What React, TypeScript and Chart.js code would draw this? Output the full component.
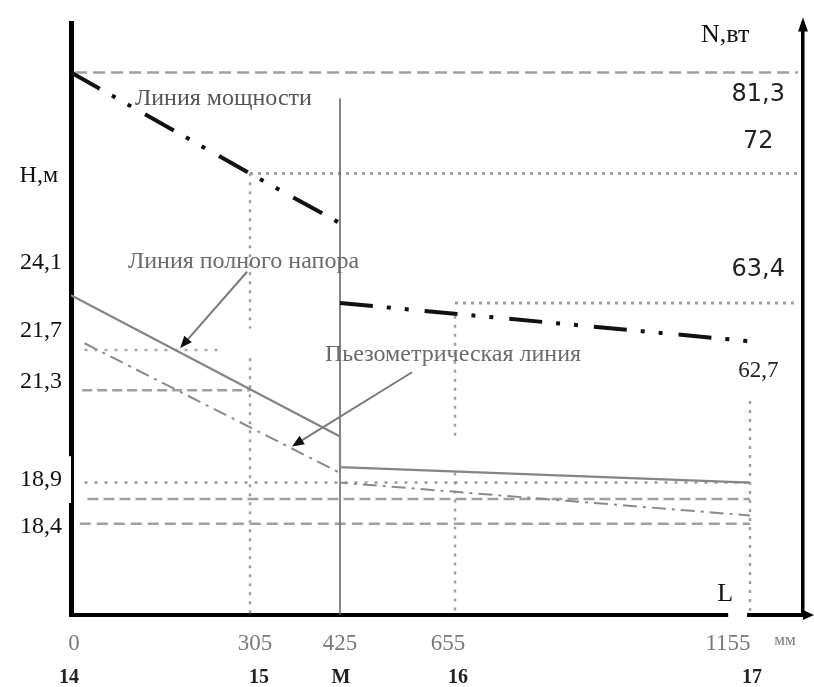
import React, { useEffect, useRef } from 'react';
import { Chart, LinearScale, registerables } from 'chart.js';

// ---------------- data ----------------
const sectionX = [0, 305, 425, 655, 1155]; // mm
const sectionNames = ['14', '15', 'М', '16', '17'];
const unitTick = 1230; // where the unit "мм" sits on the length axis
const headTicks = [18.4, 18.9, 21.3, 21.7, 24.1]; // H, m
const powerTicks = [62.7, 63.4, 72, 81.3]; // N, W

// power line N(L)
const powerX = [0, 305, 425, 425, 425, 1155];
const powerN = [81.3, 72, 68.7, null, 63.4, 62.7];
// full head line H(L)
const headX = [0, 425, 425, 1155];
const fullHead = [24.1, 20.1, 19.3, 18.9];
// piezometric line
const piezoX = [23, 425, 425, 1155];
const piezoHead = [22.0, 19.15, 18.9, 18.5];

// horizontal guide lines on the H scale
const hGuideLevel = [21.7, 21.3, 18.9, 18.7, 18.4];
const hGuideFrom = [23, 19, 23, 28, 15];
const hGuideTo = [259, 305, 1155, 1155, 1155];
// horizontal guide lines on the N scale
const nGuideLevel = [81.3, 72, 63.4];
const nGuideFrom = [7, 305, 655];
const nGuideTo = [1250, 1250, 1250];
// vertical dotted guides (H values, null = gap)
const vGuideX = [305, 655, 1155];
const vGuideH = [
  [25.4, 22.64, null, 21.62, 17.5],
  [23.2, 20.1, null, 19.16, 17.5],
  [21.02, 17.5],
];
// section M wall
const mLineX = 425;
const mLineH = [26.2, 17.5];

// text notes and pointers (data coordinates)
const notes = [
  { text: 'Линия мощности', x: 109, y: 78.9, axis: 'yN' },
  { text: 'Линия полного напора', x: 97, y: 24.46, axis: 'yH' },
  { text: 'Пьезометрическая линия', x: 405, y: 21.65, axis: 'yH' },
];
const pointerFrom = [[300, 24.35], [569, 21.48]];
const pointerTo = [[186, 21.79], [361, 19.84]];
const axisNames = [
  { text: 'Н,м', x: -22, y: 25.37, axis: 'yH', align: 'right' },
  { text: 'N,вт', x: 1113, y: 84.87, axis: 'yN', align: 'center' },
  { text: 'L', x: 1113, y: 17.71, axis: 'yH', align: 'center' },
];
const lGap = [1118, 1150];

// ---------------- non-uniform (schematic) scales ----------------
// The drawing is not to scale; each axis maps values through knots
// given as positions inside the plot frame.
const FRAME = { left: 71, right: 803, top: 12, bottom: 615 };
const KNOTS_PX: Record<string, number[][]> = {
  x: [[0, 71], [305, 250], [425, 340], [655, 455], [1155, 750], [1260, 803]],
  xNum: [[0, 74], [305, 255], [425, 340], [655, 448], [1155, 728], [1230, 785], [1260, 803]],
  xName: [[0, 69], [305, 259], [425, 341], [655, 458], [1155, 752], [1260, 803]],
  yH: [[17.5, 615], [18.4, 522], [18.9, 480], [21.3, 386], [21.7, 345], [24.1, 289], [27, 12]],
  yN: [[55, 615], [62.7, 336], [63.4, 297], [72, 165], [81.3, 62], [86, 12]],
  yHlab: [[17.5, 615], [18.4, 525], [18.9, 477], [21.3, 377], [21.7, 325], [24.1, 256], [27, 12]],
  yNlab: [[55, 615], [62.7, 366], [63.4, 263], [72, 133], [81.3, 85], [86, 12]],
};
const KNOTS: Record<string, number[][]> = {};
Object.keys(KNOTS_PX).forEach((id) => {
  const horiz = id[0] === 'x';
  KNOTS[id] = KNOTS_PX[id].map(([v, p]) => [
    v,
    horiz ? (p - FRAME.left) / (FRAME.right - FRAME.left) : (FRAME.bottom - p) / (FRAME.bottom - FRAME.top),
  ]);
});

class PiecewiseScale extends LinearScale {
  static id = 'piecewise';
  static defaults = {};
  getPixelForValue(value: any) {
    if (value === null || value === undefined || Number.isNaN(value)) return NaN;
    const k = KNOTS[(this as any).id];
    let i = 0;
    while (i < k.length - 2 && value > k[i + 1][0]) i++;
    const [v0, d0] = k[i];
    const [v1, d1] = k[i + 1];
    return this.getPixelForDecimal(d0 + ((value - v0) * (d1 - d0)) / (v1 - v0));
  }
  getValueForPixel(pixel: number) {
    const d = this.getDecimalForPixel(pixel);
    const k = KNOTS[(this as any).id];
    let i = 0;
    while (i < k.length - 2 && d > k[i + 1][1]) i++;
    const [v0, d0] = k[i];
    const [v1, d1] = k[i + 1];
    return v0 + ((d - d0) * (v1 - v0)) / (d1 - d0);
  }
}

Chart.register(...registerables, PiecewiseScale);

const fmt = (v: number) => String(v).replace('.', ',');
const pts = (xs: number[], ys: (number | null)[]) => xs.map((x, i) => ({ x, y: ys[i] }));

const base = { pointRadius: 0, fill: false, tension: 0, spanGaps: false, xAxisID: 'x', borderCapStyle: 'butt' };

const hGuideStyle = [
  { dash: [3, 7], color: '#a6a6a6', width: 2.5 },
  { dash: [10, 5], color: '#a0a0a0', width: 2.5 },
  { dash: [3, 7], color: '#9a9a9a', width: 2.5 },
  { dash: [11, 5], color: '#a0a0a0', width: 2.5 },
  { dash: [11, 6], color: '#a0a0a0', width: 2.5 },
];
const nGuideStyle = [
  { dash: [12, 6], color: '#a0a0a0', width: 2.5 },
  { dash: [3, 5], color: '#a0a0a0', width: 3 },
  { dash: [3, 5], color: '#a0a0a0', width: 3 },
];

function buildDatasets() {
  const ds: any[] = [
    {
      ...base, label: 'Линия мощности', data: pts(powerX, powerN), yAxisID: 'yN',
      borderColor: '#111', borderWidth: 4, borderDash: [33, 14, 4, 14, 4, 16],
    },
    {
      ...base, label: 'Линия полного напора', data: pts(headX, fullHead), yAxisID: 'yH',
      borderColor: '#858585', borderWidth: 2.2,
    },
    {
      ...base, label: 'Пьезометрическая линия', data: pts(piezoX, piezoHead), yAxisID: 'yH',
      borderColor: '#8a8a8a', borderWidth: 2, borderDash: [14, 6, 3, 6],
    },
    {
      ...base, label: 'M', data: pts([mLineX, mLineX], mLineH), yAxisID: 'yH',
      borderColor: '#666', borderWidth: 1.6,
    },
  ];
  hGuideLevel.forEach((lv, i) => {
    ds.push({
      ...base, label: 'H ' + lv, data: pts([hGuideFrom[i], hGuideTo[i]], [lv, lv]), yAxisID: 'yH',
      borderColor: hGuideStyle[i].color, borderWidth: hGuideStyle[i].width, borderDash: hGuideStyle[i].dash,
    });
  });
  nGuideLevel.forEach((lv, i) => {
    ds.push({
      ...base, label: 'N ' + lv, data: pts([nGuideFrom[i], nGuideTo[i]], [lv, lv]), yAxisID: 'yN',
      borderColor: nGuideStyle[i].color, borderWidth: nGuideStyle[i].width, borderDash: nGuideStyle[i].dash,
    });
  });
  vGuideX.forEach((xv, i) => {
    ds.push({
      ...base, label: 'v ' + xv, data: pts(vGuideH[i].map(() => xv), vGuideH[i]), yAxisID: 'yH',
      borderColor: '#a0a0a0', borderWidth: 2.5, borderDash: [3, 6],
    });
  });
  return ds;
}

const notesPlugin = {
  id: 'schemeNotes',
  afterDraw(chart: any) {
    const { ctx, chartArea: a, scales } = chart;
    const X = (v: number) => scales.x.getPixelForValue(v);
    const Y = (axis: string, v: number) => scales[axis].getPixelForValue(v);
    ctx.save();
    // pointers
    pointerFrom.forEach((f, i) => {
      const t = pointerTo[i];
      const x0 = X(f[0]), y0 = Y('yH', f[1]), x1 = X(t[0]), y1 = Y('yH', t[1]);
      const ang = Math.atan2(y1 - y0, x1 - x0);
      const L = 12, W = 5;
      ctx.strokeStyle = '#7a7a7a';
      ctx.lineWidth = 2;
      ctx.beginPath();
      ctx.moveTo(x0, y0);
      ctx.lineTo(x1 - L * 0.8 * Math.cos(ang), y1 - L * 0.8 * Math.sin(ang));
      ctx.stroke();
      ctx.fillStyle = '#111';
      ctx.beginPath();
      ctx.moveTo(x1, y1);
      ctx.lineTo(x1 - L * Math.cos(ang) + W * Math.sin(ang), y1 - L * Math.sin(ang) - W * Math.cos(ang));
      ctx.lineTo(x1 - L * Math.cos(ang) - W * Math.sin(ang), y1 - L * Math.sin(ang) + W * Math.cos(ang));
      ctx.closePath();
      ctx.fill();
    });
    // notes
    ctx.textBaseline = 'middle';
    ctx.textAlign = 'left';
    notes.forEach((n, i) => {
      ctx.font = '24px "Liberation Serif"';
      ctx.fillStyle = i === 0 ? '#555' : '#6a6a6a';
      ctx.fillText(n.text, X(n.x), Y(n.axis, n.y));
    });
    // gap in the length axis under "L"
    ctx.fillStyle = '#fff';
    ctx.fillRect(X(lGap[0]), a.bottom - 4, X(lGap[1]) - X(lGap[0]), 8);
    // axis arrows
    ctx.fillStyle = '#000';
    ctx.beginPath();
    ctx.moveTo(a.right, a.top - 6);
    ctx.lineTo(a.right - 5, a.top + 8);
    ctx.lineTo(a.right + 5, a.top + 8);
    ctx.closePath();
    ctx.fill();
    ctx.fillRect(a.right, a.bottom - 2, 4, 4);
    ctx.beginPath();
    ctx.moveTo(a.right + 11, a.bottom);
    ctx.lineTo(a.right, a.bottom - 5);
    ctx.lineTo(a.right, a.bottom + 5);
    ctx.closePath();
    ctx.fill();
    // axis names
    axisNames.forEach((n) => {
      ctx.font = n.text === 'Н,м' ? '24px "Liberation Serif"' : '26px "Liberation Serif"';
      ctx.fillStyle = '#111';
      ctx.textAlign = n.align;
      ctx.fillText(n.text, X(n.x), Y(n.axis, n.y));
    });
    ctx.restore();
  },
};

const serif = 'Liberation Serif';

function buildConfig(): any {
  return {
    type: 'line',
    data: { datasets: buildDatasets() },
    plugins: [notesPlugin],
    options: {
      animation: false,
      responsive: false,
      events: [],
      layout: { autoPadding: false, padding: { top: 12, left: 0, right: 0, bottom: 0 } },
      plugins: { legend: { display: false }, tooltip: { enabled: false } },
      scales: {
        x: { type: 'piecewise', min: 0, max: 1260, display: false, position: 'bottom', bounds: 'data' },
        yH: { type: 'piecewise', min: 17.5, max: 27, display: false, position: 'left', bounds: 'data' },
        yN: { type: 'piecewise', min: 55, max: 86, display: false, position: 'right', bounds: 'data' },
        xNum: {
          type: 'piecewise', position: 'bottom', min: 0, max: 1260, weight: 0, z: 1, bounds: 'data',
          grid: { display: false, drawTicks: false },
          border: { display: true, color: '#000', width: 4 },
          afterBuildTicks: (s: any) => { s.ticks = [...sectionX, unitTick].map((v) => ({ value: v })); },
          afterFit: (s: any) => { s.height = 40; },
          ticks: {
            autoSkip: false, maxRotation: 0, minRotation: 0, padding: 15, color: '#7a7a7a',
            callback: (v: number) => (v === unitTick ? 'мм' : String(v)),
            font: (c: any) => (c.tick && c.tick.value === unitTick ? { family: serif, size: 17 } : { family: serif, size: 23 }),
          },
        },
        xName: {
          type: 'piecewise', position: 'bottom', min: 0, max: 1260, weight: 1, bounds: 'data',
          grid: { display: false, drawTicks: false },
          border: { display: false },
          afterBuildTicks: (s: any) => { s.ticks = sectionX.map((v) => ({ value: v })); },
          afterFit: (s: any) => { s.height = 32; },
          ticks: {
            autoSkip: false, maxRotation: 0, minRotation: 0, padding: 11, color: '#222',
            callback: (_v: number, i: number) => sectionNames[i],
            font: { family: serif, size: 20, weight: 'bold' },
          },
        },
        yHlab: {
          type: 'piecewise', position: 'left', min: 17.5, max: 27, z: 1, bounds: 'data',
          grid: { display: false, drawTicks: false },
          border: { display: true, color: '#000', width: 5 },
          afterBuildTicks: (s: any) => { s.ticks = headTicks.map((v) => ({ value: v })); },
          afterFit: (s: any) => { s.width = 71; },
          ticks: {
            autoSkip: false, padding: 9, color: '#111', crossAlign: 'near',
            callback: (v: number) => fmt(v),
            font: { family: serif, size: 24 },
            showLabelBackdrop: (c: any) => !!(c.tick && c.tick.value === 18.9),
            backdropColor: '#fff',
            backdropPadding: { top: 9, bottom: 9, left: 2, right: 16 },
          },
        },
        yNlab: {
          type: 'piecewise', position: 'right', min: 55, max: 86, z: 1, bounds: 'data',
          grid: { display: false, drawTicks: false },
          border: { display: true, color: '#000', width: 3.5 },
          afterBuildTicks: (s: any) => { s.ticks = powerTicks.map((v) => ({ value: v })); },
          afterFit: (s: any) => { s.width = 11; },
          ticks: {
            autoSkip: false, mirror: true, crossAlign: 'center', padding: -18, color: '#222',
            callback: (v: number) => fmt(v),
            font: (c: any) => (c.tick && c.tick.value === 62.7 ? { family: serif, size: 23 } : { family: 'DejaVu Sans', size: 24 }),
          },
        },
      },
    },
  };
}

export default function App() {
  const ref = useRef<HTMLCanvasElement>(null);
  useEffect(() => {
    document.body.style.margin = '0';
    if (!ref.current) return;
    const chart = new Chart(ref.current, buildConfig());
    return () => chart.destroy();
  }, []);
  return <canvas ref={ref} width={814} height={687} style={{ display: 'block', width: 814, height: 687 }} />;
}
